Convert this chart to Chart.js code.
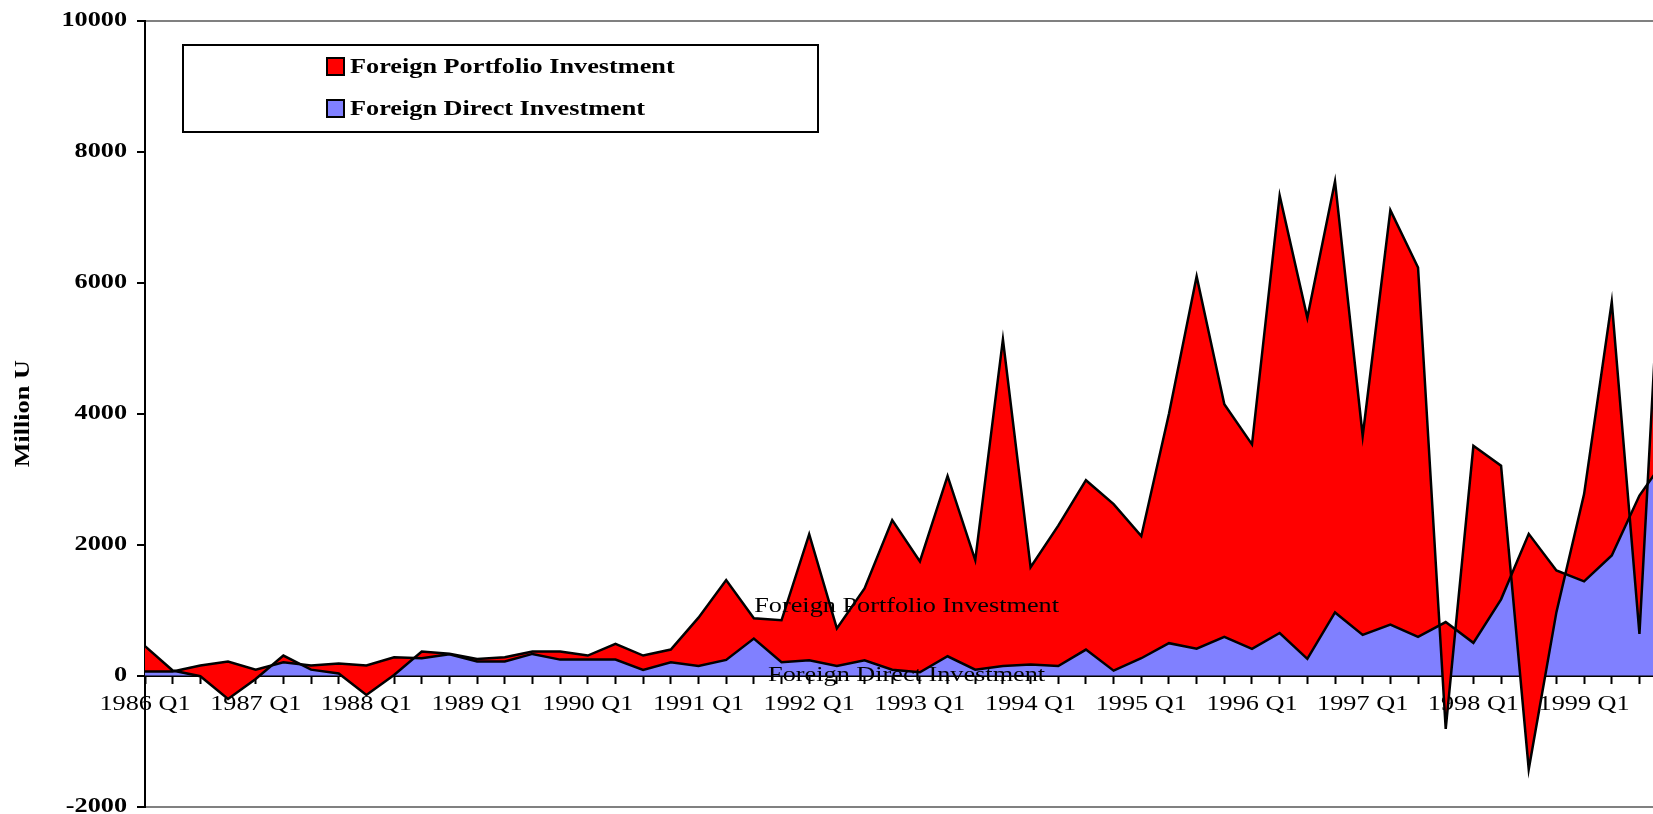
<!DOCTYPE html>
<html>
<head>
<meta charset="utf-8">
<script src="https://cdn.jsdelivr.net/npm/chart.js@4.4.1/dist/chart.umd.min.js"></script>
<style>
html,body{margin:0;padding:0;background:#fff;overflow:hidden}
canvas{display:block}
</style>
</head>
<body>
<canvas id="c" width="1653" height="814"></canvas>
<script>
// ---------------- data ----------------
const categories = [
  '1986 Q1','1986 Q2','1986 Q3','1986 Q4','1987 Q1','1987 Q2','1987 Q3','1987 Q4',
  '1988 Q1','1988 Q2','1988 Q3','1988 Q4','1989 Q1','1989 Q2','1989 Q3','1989 Q4',
  '1990 Q1','1990 Q2','1990 Q3','1990 Q4','1991 Q1','1991 Q2','1991 Q3','1991 Q4',
  '1992 Q1','1992 Q2','1992 Q3','1992 Q4','1993 Q1','1993 Q2','1993 Q3','1993 Q4',
  '1994 Q1','1994 Q2','1994 Q3','1994 Q4','1995 Q1','1995 Q2','1995 Q3','1995 Q4',
  '1996 Q1','1996 Q2','1996 Q3','1996 Q4','1997 Q1','1997 Q2','1997 Q3','1997 Q4',
  '1998 Q1','1998 Q2','1998 Q3','1998 Q4','1999 Q1','1999 Q2','1999 Q3','1999 Q4'
];
// Foreign Direct Investment (million)
const fdi = [
  62, 62, 153, 215, 91, 204, 153, 184,
  153, 280, 265, 325, 215, 215, 331, 244,
  244, 244, 87, 204, 147, 240, 565, 205,
  235, 145, 235, 90, 50, 295, 90, 145,
  170, 145, 397, 75, 265, 495, 410, 590,
  408, 650, 255, 964, 622, 778, 590, 818,
  500, 1165, 2165, 1607, 1440, 1836, 2750, 3350
];
// Foreign Portfolio Investment (million), stacked on top of FDI
const fpi = [
  388, 15, -163, -572, -142, 102, -62, -153,
  -449, -270, 102, 10, 40, 65, 36, 123,
  62, 240, 219, 193, 738, 1220, 310, 640,
  1925, 575, 1095, 2285, 1695, 2755, 1675, 4990,
  1485, 2145, 2588, 2545, 1865, 3505, 5690, 3555,
  3124, 6685, 5210, 6586, 3038, 6332, 5645, -1633,
  3010, 2040, -3595, -638, 1332, 3874, -2113, 5050
];
const yTickValues = [-2000, 0, 2000, 4000, 6000, 8000, 10000];
const seriesNames = ['Foreign Portfolio Investment', 'Foreign Direct Investment'];
const axisTitle = 'Million U';

// ---------------- styling ----------------
const RED = '#FF0000';
const BLUE = '#8080FF';
const FONT = "'Liberation Serif', 'Times New Roman', serif";
const SX = 1.25; // horizontally widened lettering as in the reference

const canvas = document.getElementById('c');
const ctx = canvas.getContext('2d');
const origFill = ctx.fillText.bind(ctx);
ctx.fillText = function (t, x, y, mw) {
  this.save();
  this.translate(x, y);
  this.scale(SX, 1);
  if (mw === undefined || mw === null) origFill(t, 0, 0);
  else origFill(t, 0, 0, mw / SX);
  this.restore();
};

const pts = arr => arr.map((v, i) => ({x: i, y: v}));

const legendPlugin = {
  id: 'boxLegend',
  afterDraw(chart) {
    const c = chart.ctx;
    const items = [chart.data.datasets[1], chart.data.datasets[2]];
    c.save();
    c.lineWidth = 2;
    c.strokeStyle = '#000';
    c.strokeRect(183, 45, 635, 87);
    const rowY = [66.5, 108.5];
    items.forEach((ds, k) => {
      const cy = rowY[k];
      c.fillStyle = ds.backgroundColor;
      c.fillRect(327, cy - 8.5, 17, 17);
      c.strokeRect(327, cy - 8.5, 17, 17);
      c.fillStyle = '#000';
      c.font = 'bold 21px ' + FONT;
      c.textAlign = 'left';
      c.textBaseline = 'middle';
      c.fillText(ds.label, 350, cy + 1);
    });
    c.restore();
  }
};

const seriesLabelPlugin = {
  id: 'seriesLabels',
  afterDraw(chart) {
    const c = chart.ctx;
    const xs = chart.scales.x, ys = chart.scales.y;
    const anchors = [
      {text: seriesNames[0], x: 27.52, y: 1058},
      {text: seriesNames[1], x: 27.52, y: 0}
    ];
    c.save();
    c.fillStyle = '#000';
    c.font = '21px ' + FONT;
    c.textAlign = 'center';
    c.textBaseline = 'middle';
    anchors.forEach(a => c.fillText(a.text, xs.getPixelForValue(a.x), ys.getPixelForValue(a.y)));
    c.restore();
  }
};

new Chart(ctx, {
  type: 'line',
  data: {
    datasets: [
      { // FDI boundary line (bottom of stack)
        label: seriesNames[1],
        data: pts(fdi),
        stack: 'inv',
        order: 0,
        borderColor: '#000',
        borderWidth: 2.5,
        backgroundColor: BLUE,
        fill: false,
        pointRadius: 0,
        tension: 0
      },
      { // FPI stacked on FDI
        label: seriesNames[0],
        data: pts(fpi),
        stack: 'inv',
        order: 1,
        borderColor: '#000',
        borderWidth: 2.5,
        backgroundColor: RED,
        fill: '-1',
        pointRadius: 0,
        tension: 0
      },
      { // FDI area
        label: seriesNames[1],
        data: pts(fdi),
        stack: 'fdiArea',
        order: 2,
        borderColor: 'rgba(0,0,0,0)',
        borderWidth: 0,
        backgroundColor: BLUE,
        fill: 'origin',
        pointRadius: 0,
        tension: 0
      }
    ]
  },
  options: {
    responsive: false,
    devicePixelRatio: 1,
    animation: false,
    events: [],
    layout: {padding: {left: 0, right: 0, top: 21, bottom: 7.5}},
    plugins: {
      legend: {display: false},
      tooltip: {enabled: false},
      title: {display: false}
    },
    scales: {
      x: {
        type: 'linear',
        position: {y: 0},
        min: 0,
        max: 54.49,
        afterBuildTicks(scale) {
          scale.ticks = categories.map((_, i) => ({value: i})).filter(t => t.value <= scale.max);
        },
        afterFit(scale) {
          scale.paddingLeft = 0; scale.paddingRight = 0;
          scale.paddingTop = 0; scale.paddingBottom = 0;
        },
        ticks: {
          autoSkip: false,
          maxRotation: 0,
          minRotation: 0,
          padding: 9,
          color: '#000',
          font: {family: FONT, size: 21, weight: 'normal'},
          callback: (v) => {
            const lab = categories[v];
            return lab && lab.endsWith('Q1') ? lab : '';
          }
        },
        grid: {
          display: true,
          drawOnChartArea: false,
          drawTicks: true,
          tickLength: 7,
          tickWidth: 2,
          tickColor: '#000'
        },
        border: {display: true, color: '#000', width: 3}
      },
      y: {
        type: 'linear',
        position: 'left',
        stacked: 'single',
        min: -2000,
        max: 10000,
        afterBuildTicks(scale) {
          scale.ticks = yTickValues.map(v => ({value: v}));
        },
        afterFit(scale) {
          scale.width = 145;
          scale.paddingTop = 0; scale.paddingBottom = 0;
        },
        ticks: {
          padding: 10,
          color: '#000',
          font: {family: FONT, size: 21, weight: 'bold'},
          callback: (v) => String(v)
        },
        grid: {
          display: true,
          drawOnChartArea: true,
          drawTicks: true,
          tickLength: 8,
          tickWidth: 2,
          tickColor: '#000',
          lineWidth: 2,
          color: (c) => (c.tick && (c.tick.value === 10000 || c.tick.value === -2000)) ? '#808080' : 'rgba(0,0,0,0)'
        },
        border: {display: true, color: '#000', width: 2},
        title: {
          display: true,
          text: axisTitle,
          color: '#000',
          font: {family: FONT, size: 21, weight: 'bold'},
          padding: {top: 11, bottom: 0}
        }
      }
    }
  },
  plugins: [legendPlugin, seriesLabelPlugin]
});
</script>
</body>
</html>
